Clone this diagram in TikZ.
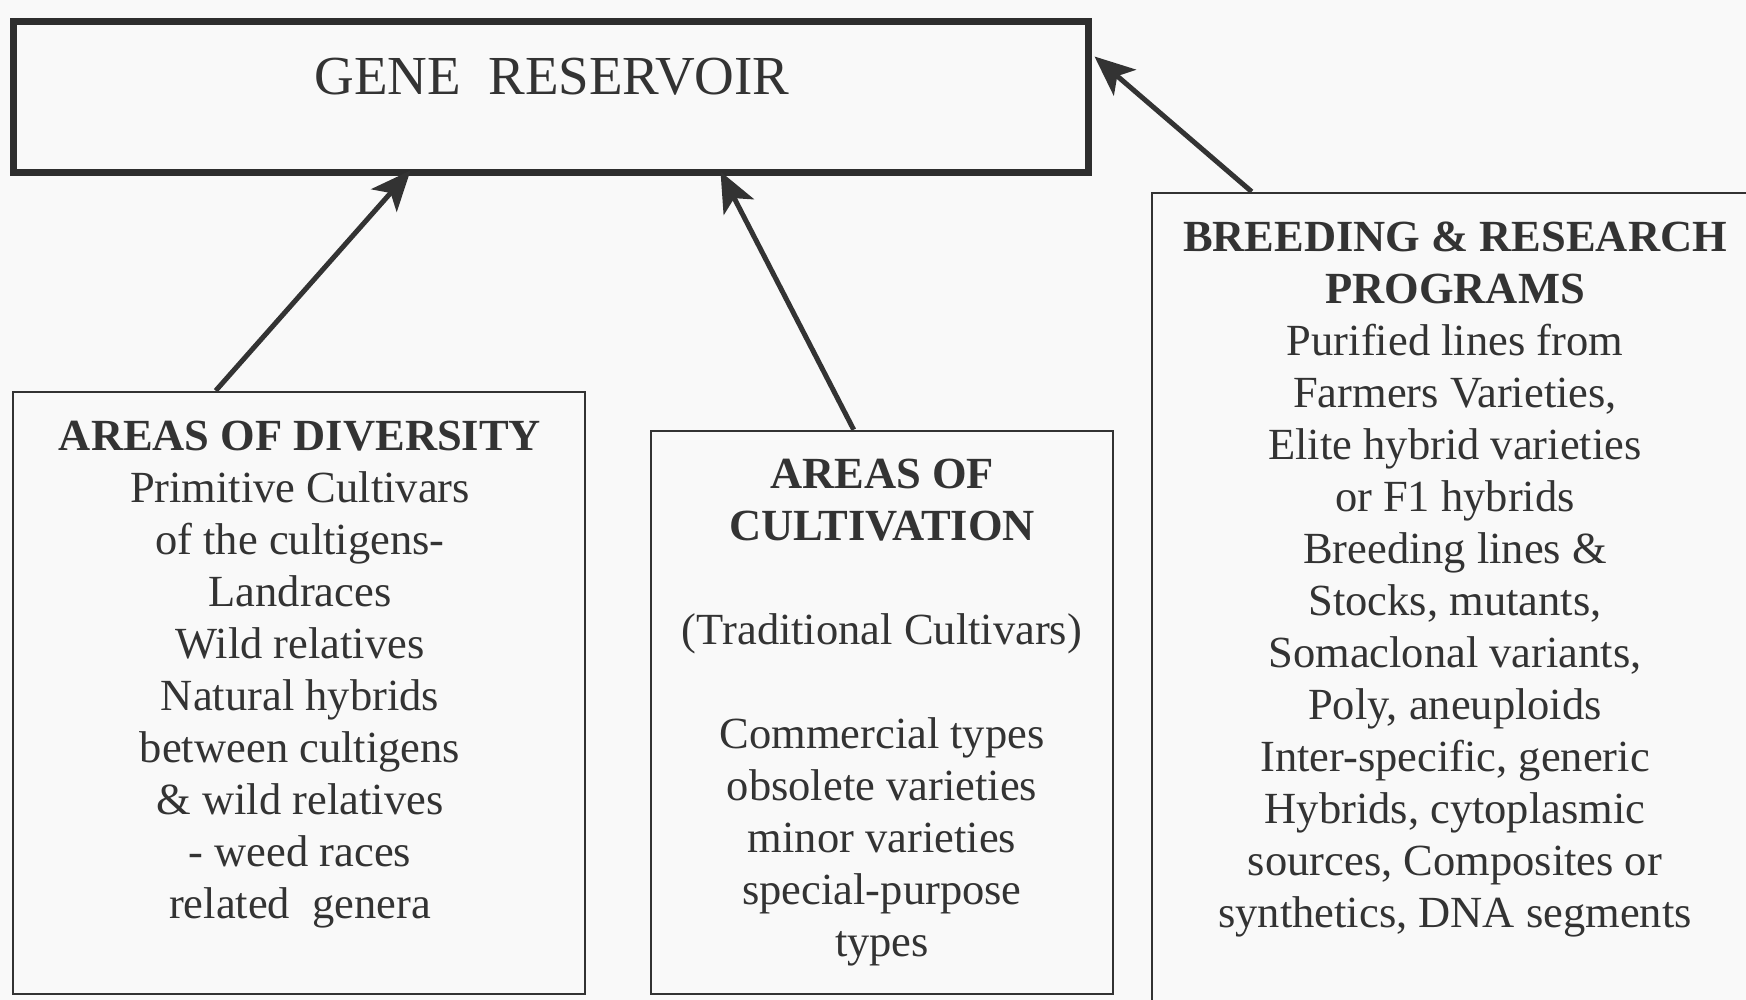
\documentclass[tikz,border=0pt]{standalone}
\usepackage{fontspec}
\setmainfont{Liberation Serif}
\usetikzlibrary{arrows.meta}
\definecolor{ink}{gray}{0.2}
\definecolor{paper}{gray}{0.975}
\tikzset{
  frame/.style={draw=ink, line width=2.6pt, rectangle, inner sep=0pt},
  bigframe/.style={draw=ink!90!black, line width=7pt, rectangle, inner sep=0pt},
  txt/.style={text=ink, align=center, inner sep=0pt, font=\fontsize{44.5}{52}\selectfont},
  arr/.style={draw=ink, line width=5pt, -{Stealth[length=40pt,width=34pt,inset=10pt]}},
}
\begin{document}
\begin{tikzpicture}[x=1pt,y=-1pt]
\fill[paper] (0,0) rectangle (1746,1000);
\clip (0,0) rectangle (1746,1000);

% boxes
\node[bigframe, minimum width=1075pt, minimum height=151pt] (gene) at (550.5,97.5) {};
\node[frame, minimum width=572pt, minimum height=602pt] (lbox) at (299,693) {};
\node[frame, minimum width=462pt, minimum height=563pt] (mbox) at (882,712.5) {};
\node[frame, minimum width=608pt, minimum height=827pt] (rbox) at (1456,606.5) {};

% texts
\node[txt, anchor=base, font=\fontsize{55}{60}\selectfont] (genetxt) at (552,95) {GENE\ \ RESERVOIR};

\node[txt] (ltxt) at (300,675) {\textbf{AREAS OF DIVERSITY}\\
Primitive Cultivars\\
of the cultigens-\\
Landraces\\
Wild relatives\\
Natural hybrids\\
between cultigens\\
\&\ wild relatives\\
- weed races\\
related\ \ genera};

\node[txt] (mtxt) at (882,713) {\textbf{AREAS OF}\\
\textbf{CULTIVATION}\\[52pt]
(Traditional Cultivars)\\[52pt]
Commercial types\\
obsolete varieties\\
minor varieties\\
special-purpose\\
types};

\node[txt] (rtxt) at (1455,579) {\textbf{BREEDING \& RESEARCH}\\
\textbf{PROGRAMS}\\
Purified lines from\\
Farmers Varieties,\\
Elite hybrid varieties\\
or F1 hybrids\\
Breeding lines \&\\
Stocks, mutants,\\
Somaclonal variants,\\
Poly, aneuploids\\
Inter-specific, generic\\
Hybrids, cytoplasmic\\
sources, Composites or\\
synthetics, DNA segments};

% connectors
\draw[arr] ([xshift=204pt]lbox.north west) -- ([xshift=401pt,yshift=6pt]gene.south west);
\draw[arr] ([xshift=204pt]mbox.north west) -- ([xshift=711pt,yshift=5pt]gene.south west);
\draw[arr] ([xshift=101pt]rbox.north west) -- ([xshift=3pt,yshift=-38pt]gene.north east);
\end{tikzpicture}
\end{document}
